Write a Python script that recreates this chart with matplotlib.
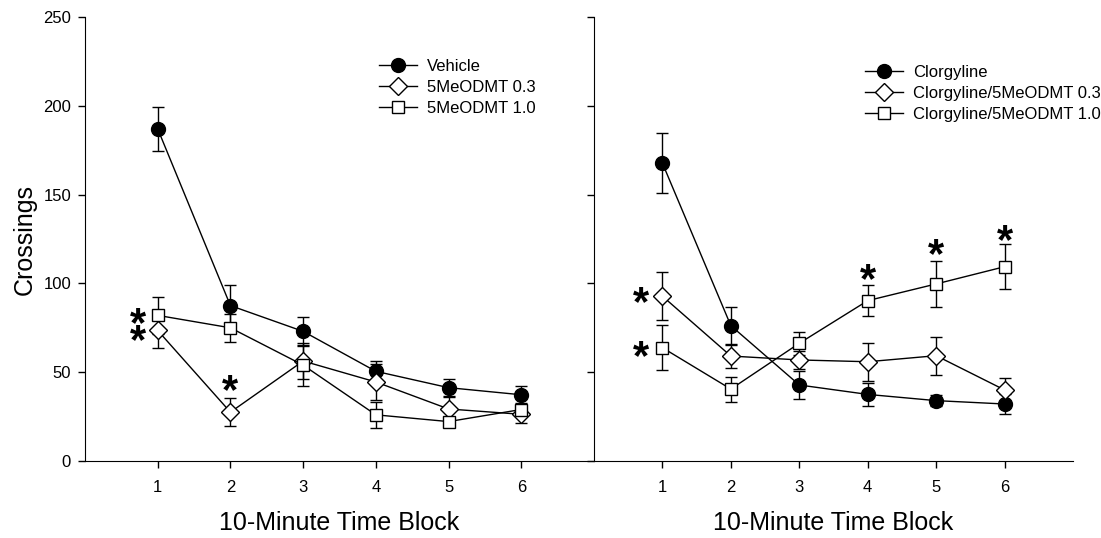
import matplotlib
matplotlib.use("Agg")
import matplotlib.pyplot as plt

plt.rcParams["font.family"] = ["Liberation Sans", "DejaVu Sans"]

blocks = [1, 2, 3, 4, 5, 6]

# left panel
vehicle = [187, 87.5, 73, 50.5, 41.3, 37.3]
vehicle_err = [12.5, 11.5, 8, 6, 4.7, 4.7]
dmt03 = [73.5, 27.5, 56.3, 44.5, 29.3, 26.3]
dmt03_err = [10, 8, 10, 10, 7, 5]
dmt10 = [82, 75, 54, 26, 22.2, 29]
dmt10_err = [10.5, 8, 11.5, 7.5, 2.5, 3]

# right panel
clor = [167.7, 76.2, 42.8, 37.5, 34.0, 32.1]
clor_err = [17, 10.7, 7.7, 6.5, 3, 5.6]
clor03 = [92.8, 59.1, 56.9, 55.9, 59.3, 40.0]
clor03_err = [13.5, 7, 5, 10.7, 10.6, 7]
clor10 = [63.8, 40.5, 66.3, 90.3, 99.7, 109.4]
clor10_err = [12.8, 7, 6.5, 8.9, 12.8, 12.6]

left_labels = ["Vehicle", "5MeODMT 0.3", "5MeODMT 1.0"]
right_labels = ["Clorgyline", "Clorgyline/5MeODMT 0.3", "Clorgyline/5MeODMT 1.0"]

# significance stars: (x, y)
left_stars = [(0.73, 81), (0.73, 71.5), (2, 43)]
right_stars = [(0.68, 92.5), (0.68, 62.5), (4, 105.7), (5, 120), (6, 127.5)]

styles = [
    dict(marker="o", markersize=10, markerfacecolor="black"),
    dict(marker="D", markersize=9, markerfacecolor="white"),
    dict(marker="s", markersize=8.5, markerfacecolor="white"),
]

STAR_FS = 30

fig = plt.figure(figsize=(11.01, 5.38), dpi=100)
ax1 = fig.add_axes([0.0772, 0.1431, 0.4623, 0.8253])
ax2 = fig.add_axes([0.5395, 0.1431, 0.4351, 0.8253], sharey=ax1)


def draw_panel(ax, series, labels, stars):
    handles = []
    for (vals, errs), lab, st in zip(series, labels, styles):
        ax.errorbar(blocks, vals, yerr=errs, fmt="none", ecolor="black",
                    elinewidth=1, capsize=4, capthick=1, zorder=2)
        h, = ax.plot(blocks, vals, color="black", lw=1, markeredgecolor="black",
                     markeredgewidth=1, label=lab, zorder=3, **st)
        handles.append(h)
    # asterisk ink sits high in the em box, so shift it down onto the point
    for sx, sy in stars:
        ax.annotate("*", (sx, sy), xytext=(0, -0.45 * STAR_FS),
                    textcoords="offset points", fontsize=STAR_FS,
                    fontweight="bold", ha="center", va="baseline")
    ax.set_xlim(0, 7)
    ax.set_xticks(blocks)
    ax.set_xlabel("10-Minute Time Block", fontsize=18, labelpad=11)
    ax.spines["top"].set_visible(False)
    ax.spines["right"].set_visible(False)
    ax.tick_params(axis="both", direction="out", length=5, width=1,
                   labelsize=12, pad=9)
    return handles


h1 = draw_panel(ax1, [(vehicle, vehicle_err), (dmt03, dmt03_err), (dmt10, dmt10_err)],
                left_labels, left_stars)
h2 = draw_panel(ax2, [(clor, clor_err), (clor03, clor03_err), (clor10, clor10_err)],
                right_labels, right_stars)

ax1.set_ylim(0, 250)
ax1.set_yticks([0, 50, 100, 150, 200, 250])
ax1.set_ylabel("Crossings", fontsize=18, labelpad=5)
ax1.tick_params(axis="y", pad=5)
ax2.tick_params(axis="y", labelleft=False)

leg_kw = dict(loc="upper left", frameon=False, fontsize=12, handlelength=2.3,
              handletextpad=0.6, labelspacing=0.36, borderpad=0, borderaxespad=0)
fig.legend(handles=h1, bbox_to_anchor=(0.344, 0.890), **leg_kw)
fig.legend(handles=h2, bbox_to_anchor=(0.7857, 0.879), **leg_kw)

fig.savefig("out.png", dpi=100)
